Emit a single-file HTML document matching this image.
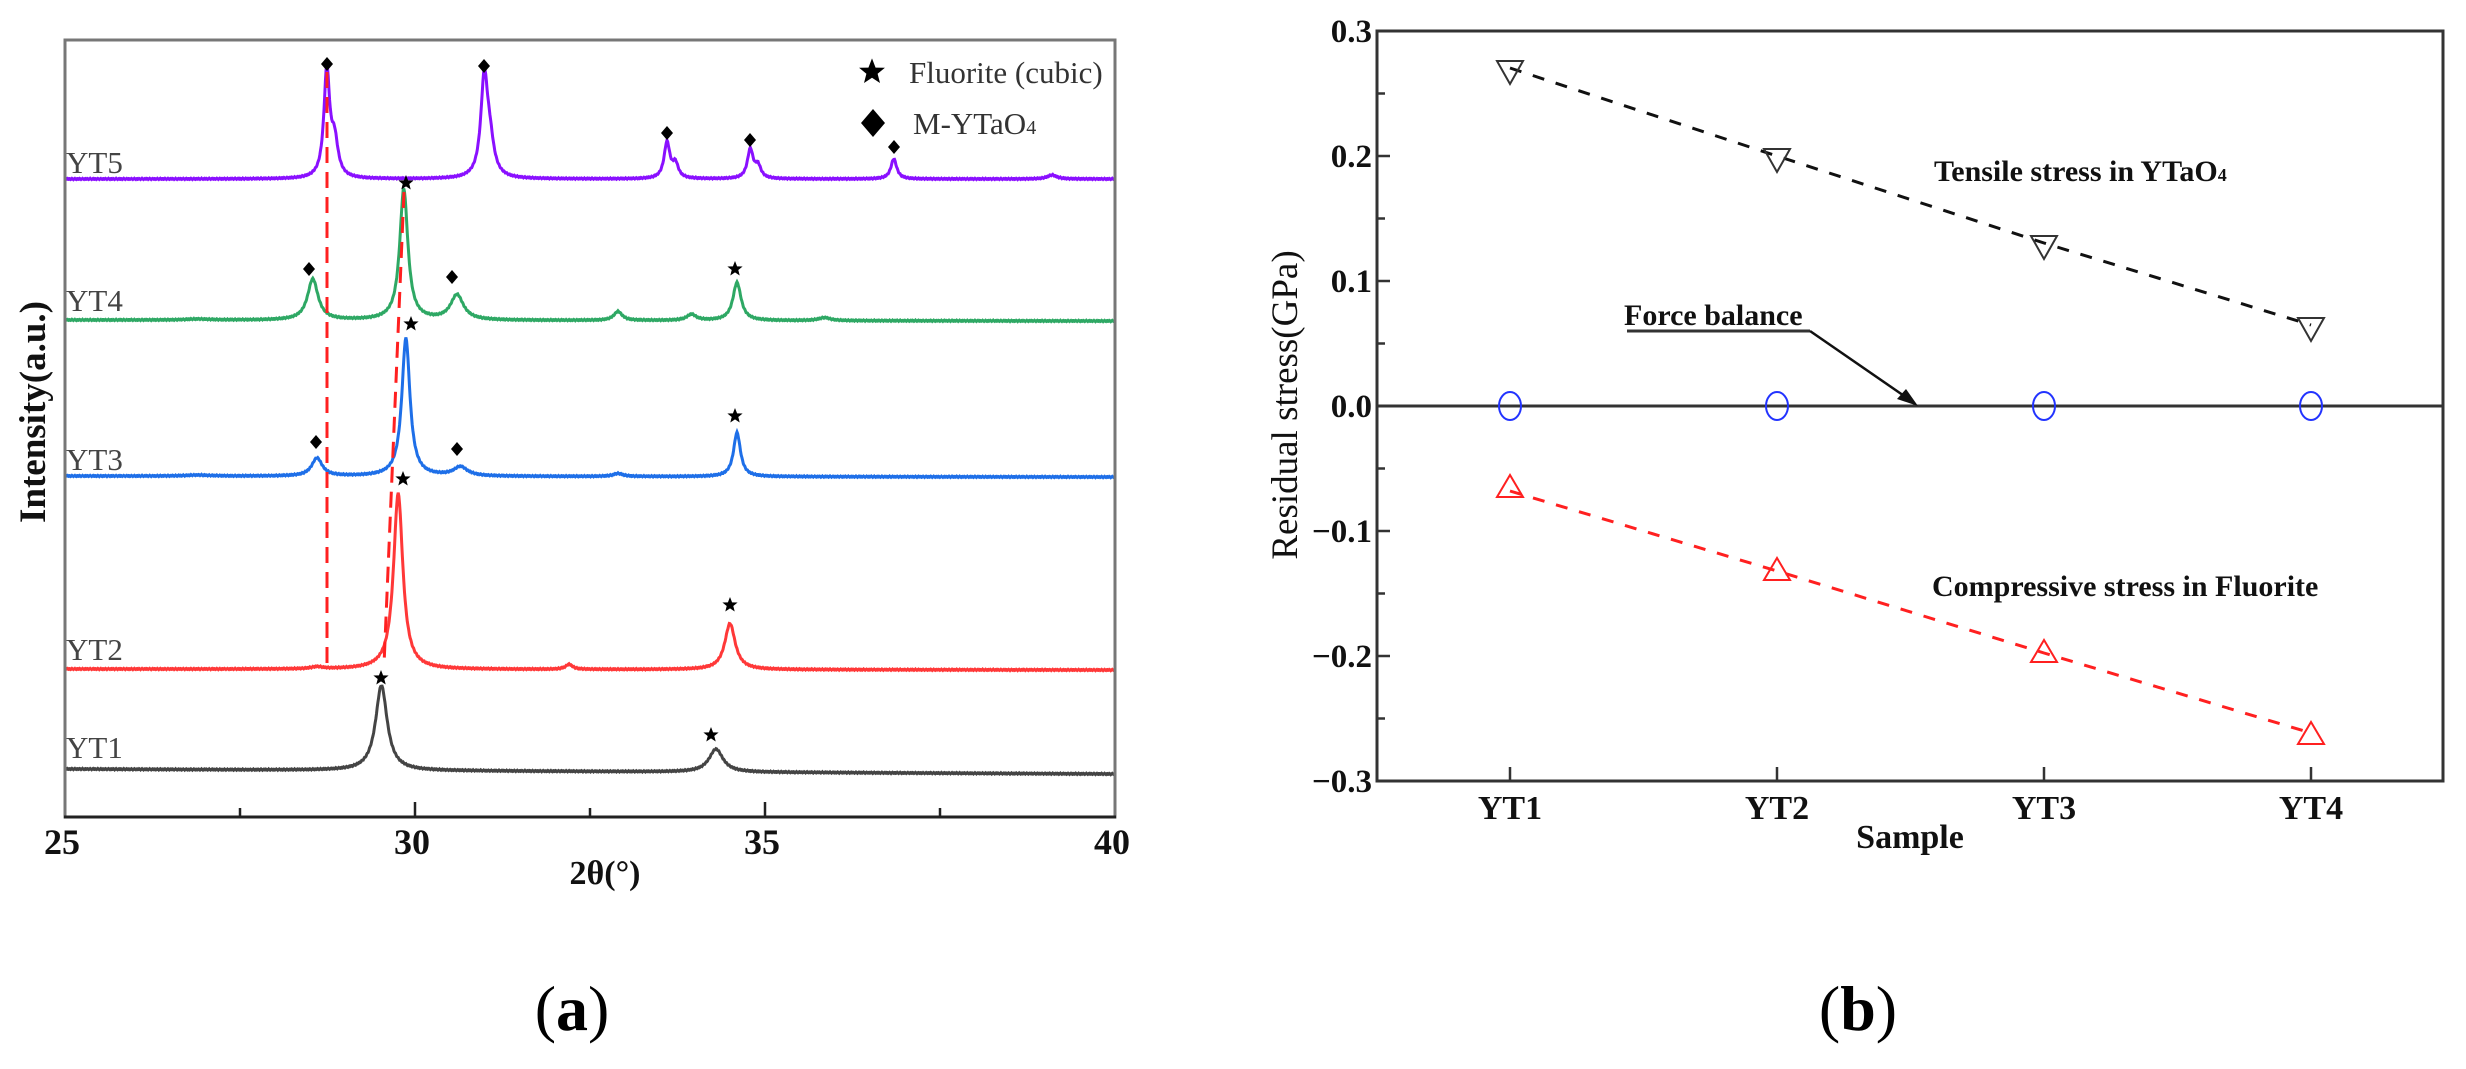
<!DOCTYPE html>
<html><head><meta charset="utf-8"><style>
html,body{margin:0;padding:0;background:#fff;}
svg{display:block;font-family:"Liberation Serif",serif;}
</style></head><body>
<svg id="s" width="2466" height="1069" viewBox="0 0 2466 1069" xmlns="http://www.w3.org/2000/svg">
<defs>
<path id="star" d="M0,-8 L2.1,-2.6 L7.6,-2.5 L3.3,1 L4.7,6.5 L0,3.4 L-4.7,6.5 L-3.3,1 L-7.6,-2.5 L-2.1,-2.6Z"/>
<path id="dia" d="M0,-7 L6,0 L0,7 L-6,0Z"/>
</defs>
<rect width="2466" height="1069" fill="#fff"/>
<g id="left">
  <g id="curves"></g>
  <!-- red dashed guide lines -->
  <line x1="327" y1="72" x2="327" y2="665" stroke="#ff2020" stroke-width="3" stroke-dasharray="16,9"/>
  <line x1="404" y1="192" x2="384" y2="665" stroke="#ff2020" stroke-width="3" stroke-dasharray="16,9"/>
  <!-- frame -->
  <rect x="65" y="40" width="1050" height="777" fill="none" stroke="#777" stroke-width="3"/>
  <line x1="64" y1="817" x2="1116" y2="817" stroke="#222" stroke-width="3"/>
  <g stroke="#222" stroke-width="2.5">
    <line x1="415" y1="817" x2="415" y2="802"/><line x1="765" y1="817" x2="765" y2="802"/>
    <line x1="240" y1="817" x2="240" y2="808"/><line x1="590" y1="817" x2="590" y2="808"/><line x1="940" y1="817" x2="940" y2="808"/>
  </g>
  <g font-size="36" font-weight="bold" text-anchor="middle" fill="#111">
    <text x="62" y="854">25</text><text x="412" y="854">30</text><text x="762" y="854">35</text><text x="1112" y="854">40</text>
    <text x="605" y="884" font-size="34">2θ(°)</text>
  </g>
  <text transform="translate(45,412) rotate(-90)" font-size="37" font-weight="bold" text-anchor="middle" fill="#111">Intensity(a.u.)</text>
  <g font-size="31" fill="#444">
    <text x="66" y="173">YT5</text><text x="66" y="311">YT4</text><text x="66" y="470">YT3</text><text x="66" y="660">YT2</text><text x="66" y="758">YT1</text>
  </g>
  <!-- legend -->
  <use href="#star" transform="translate(872,72) scale(1.7)"/>
  <text x="909" y="83" font-size="31" fill="#333">Fluorite (cubic)</text>
  <use href="#dia" transform="translate(873,123) scale(2)"/>
  <text x="913" y="134" font-size="31" fill="#333">M-YTaO<tspan font-size="20">4</tspan></text>
  <g id="marks"></g>
  <text x="572" y="1030" font-size="64" text-anchor="middle" fill="#000">(<tspan font-weight="bold">a</tspan>)</text>
</g>
<g id="right">
  <rect x="1377" y="31" width="1066" height="750" fill="none" stroke="#333" stroke-width="3"/>
  <line x1="1377" y1="406" x2="2443" y2="406" stroke="#333" stroke-width="3"/>
  <g stroke="#333" stroke-width="2.5" id="rt"></g>
  <g font-size="33" font-weight="bold" text-anchor="end" fill="#111">
    <text x="1372" y="42">0.3</text><text x="1372" y="167">0.2</text><text x="1372" y="292">0.1</text><text x="1372" y="417">0.0</text>
    <text x="1372" y="542">−0.1</text><text x="1372" y="667">−0.2</text><text x="1372" y="792">−0.3</text>
  </g>
  <text transform="translate(1297,405) rotate(-90)" font-size="37" text-anchor="middle" fill="#111">Residual stress(GPa)</text>
  <g font-size="34" font-weight="bold" text-anchor="middle" fill="#111">
    <text x="1510" y="819">YT1</text><text x="1777" y="819">YT2</text><text x="2044" y="819">YT3</text><text x="2311" y="819">YT4</text>
    <text x="1910" y="848">Sample</text>
  </g>
  <polyline points="1510,68 1777,156 2044,243 2311,325" fill="none" stroke="#111" stroke-width="3" stroke-dasharray="12,12"/>
  <polyline points="1510,491 1777,571 2044,653 2311,733" fill="none" stroke="#ff2020" stroke-width="3" stroke-dasharray="12,12"/>
  <g fill="none" stroke="#333" stroke-width="2">
    <path d="M1497,61 L1523,61 L1510,84Z"/><path d="M1764,149 L1790,149 L1777,172Z"/><path d="M2031,236 L2057,236 L2044,259Z"/><path d="M2298,318 L2324,318 L2311,341Z"/>
  </g>
  <g fill="none" stroke="#ff2020" stroke-width="2">
    <path d="M1497,497 L1523,497 L1510,475Z"/><path d="M1764,580 L1790,580 L1777,558Z"/><path d="M2031,662 L2057,662 L2044,640Z"/><path d="M2298,744 L2324,744 L2311,722Z"/>
  </g>
  <g fill="none" stroke="#2233ff" stroke-width="2">
    <ellipse cx="1510" cy="406" rx="11" ry="14"/><ellipse cx="1777" cy="406" rx="11" ry="14"/><ellipse cx="2044" cy="406" rx="11" ry="14"/><ellipse cx="2311" cy="406" rx="11" ry="14"/>
  </g>
  <g font-size="30" font-weight="bold" fill="#111">
    <text x="1934" y="181">Tensile stress in YTaO<tspan font-size="18">4</tspan></text>
    <text x="1624" y="325">Force balance</text>
    <text x="1932" y="596">Compressive stress in Fluorite</text>
  </g>
  <line x1="1627" y1="331" x2="1810" y2="331" stroke="#333" stroke-width="3"/>
  <line x1="1810" y1="331" x2="1910" y2="400" stroke="#111" stroke-width="2.5"/>
  <path d="M1918,406 L1897,399 L1906,389Z" fill="#111"/>
  <text x="1858" y="1030" font-size="64" text-anchor="middle" fill="#000">(<tspan font-weight="bold">b</tspan>)</text>
</g>
<script>
(function(){
var NS="http://www.w3.org/2000/svg";
function X(t){return 65+(t-25)*70;}
var curves=[
 {c:"#8a10ff",b0:179,b1:179,p:[[28.74,106,.05],[28.85,35,.06],[30.99,97,.06],[31.07,30,.07],[33.6,36,.05],[33.72,14,.05],[34.79,29,.05],[34.9,12,.05],[36.84,20,.05],[39.1,4,.08]]},
 {c:"#2ea864",b0:320,b1:321,p:[[29.84,131,.07],[28.54,41,.09],[30.6,25,.11],[34.6,38,.07],[32.9,9,.07],[33.95,6,.08],[35.85,3,.1],[26.9,1,.2]]},
 {c:"#1e6fe8",b0:476,b1:477,p:[[29.87,138,.07],[28.6,18,.09],[30.65,9,.12],[34.6,44,.06],[32.9,3,.08],[26.9,1,.2]]},
 {c:"#ff3838",b0:669,b1:670,p:[[29.76,176,.08],[34.5,46,.09],[32.2,5,.06],[28.6,2,.1]]},
 {c:"#444",b0:769,b1:774,p:[[29.52,85,.1],[34.3,23,.12]]}
];
var g=document.getElementById("curves");
curves.forEach(function(cv){
 var d="";
 for(var i=0;i<=1500;i++){
  var t=25+i*0.01,y=cv.b0+(cv.b1-cv.b0)*i/1500;
  cv.p.forEach(function(p){var u=(t-p[0])/p[2];y-=p[1]/(1+u*u);});
  y+=Math.sin(i*1.7)*0.6;
  d+=(i?"L":"M")+X(t).toFixed(1)+","+y.toFixed(1);
 }
 var pa=document.createElementNS(NS,"path");
 pa.setAttribute("d",d);pa.setAttribute("fill","none");pa.setAttribute("stroke",cv.c);pa.setAttribute("stroke-width","3");
 g.appendChild(pa);
});
var mk=[["dia",327,64],["dia",484,66],["dia",667,133],["dia",750,140],["dia",894,147],
 ["star",406,183],["dia",309,269],["dia",452,277],["star",735,269],
 ["star",411,324],["dia",316,442],["dia",457,449],["star",735,416],
 ["star",403,479],["star",730,605],["star",381,678],["star",711,735]];
var m=document.getElementById("marks");
mk.forEach(function(k){var u=document.createElementNS(NS,"use");u.setAttribute("href","#"+k[0]);u.setAttribute("transform","translate("+k[1]+","+k[2]+")");m.appendChild(u);});
var rt=document.getElementById("rt");
for(var j=0;j<=12;j++){var y=31+j*62.5,l=(j%2==0)?13:8;
 var ln=document.createElementNS(NS,"line");ln.setAttribute("x1",1377);ln.setAttribute("x2",1377+l);ln.setAttribute("y1",y);ln.setAttribute("y2",y);rt.appendChild(ln);}
[1510,1777,2044,2311].forEach(function(x){var ln=document.createElementNS(NS,"line");ln.setAttribute("x1",x);ln.setAttribute("x2",x);ln.setAttribute("y1",781);ln.setAttribute("y2",767);rt.appendChild(ln);});
})();
</script>
</svg>
</body></html>
